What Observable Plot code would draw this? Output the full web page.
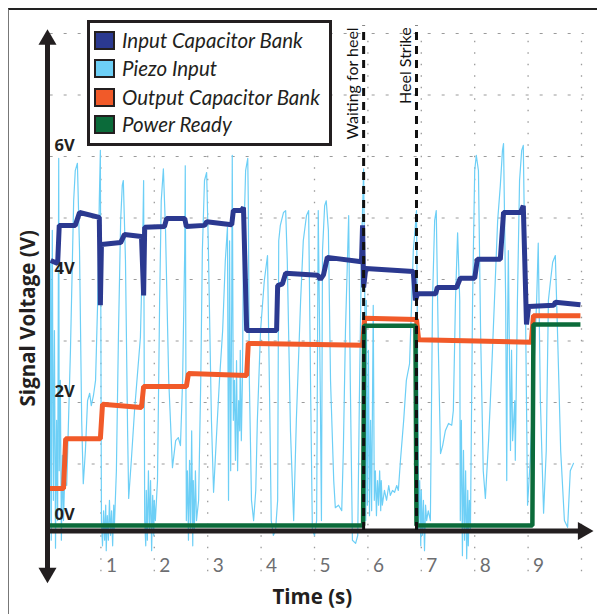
<!DOCTYPE html>
<html><head><meta charset="utf-8">
<script src="https://cdn.jsdelivr.net/npm/d3@7"></script>
<script src="https://cdn.jsdelivr.net/npm/@observablehq/plot@0.6"></script>
<style>
body{margin:0;background:#fff;}
#wrap{position:relative;width:597px;height:614px;overflow:hidden;font-family:Lato,"Open Sans",sans-serif;background:#fff;}
#frame{position:absolute;left:8px;top:8px;width:640px;height:640px;border-top:2px solid #222;border-left:1.5px solid #777;pointer-events:none;}
#legend{position:absolute;left:87px;top:20px;width:245px;height:126px;box-sizing:border-box;border:3px solid #231f20;background:#fff;}
.row{position:absolute;left:4px;height:24px;display:flex;align-items:center;white-space:nowrap;}
.sw{width:17px;height:15px;border:2px solid #231f20;margin-right:7px;flex:none;}
.lab{font-style:italic;font-size:20.5px;color:#231f20;}
</style></head>
<body><div id="wrap"></div>
<script>
// ---- data ----
const seriesNames = ["Input Capacitor Bank", "Piezo Input", "Output Capacitor Bank", "Power Ready"];
const seriesColors = ["#2b3990", "#6dcff6", "#f15a29", "#0b6b3a"];

const piezoTime = [0.02,0.04,0.06,0.07,0.09,0.11,0.13,0.15,0.17,0.19,0.21,0.22,0.24,0.26,0.28,0.30,0.32,0.36,0.43,0.49,0.52,0.56,0.60,0.64,0.67,0.71,0.75,0.79,0.82,0.86,0.90,0.94,0.97,0.99,1.01,1.03,1.05,1.07,1.09,1.10,1.12,1.14,1.16,1.18,1.20,1.22,1.24,1.25,1.29,1.33,1.37,1.40,1.42,1.46,1.50,1.52,1.57,1.63,1.69,1.74,1.78,1.80,1.82,1.84,1.85,1.87,1.89,1.91,1.93,1.95,1.97,1.99,2.00,2.02,2.06,2.10,2.13,2.17,2.21,2.27,2.34,2.40,2.45,2.49,2.53,2.57,2.58,2.60,2.62,2.64,2.66,2.68,2.70,2.72,2.73,2.75,2.77,2.79,2.83,2.87,2.90,2.94,2.98,3.01,3.07,3.11,3.16,3.22,3.28,3.33,3.37,3.39,3.41,3.43,3.45,3.46,3.48,3.50,3.52,3.54,3.56,3.58,3.60,3.61,3.63,3.65,3.67,3.71,3.75,3.76,3.78,3.82,3.86,3.90,3.93,3.99,4.06,4.12,4.16,4.19,4.23,4.27,4.31,4.33,4.36,4.42,4.46,4.49,4.55,4.61,4.66,4.74,4.79,4.85,4.89,4.93,4.96,5.00,5.04,5.07,5.11,5.13,5.15,5.19,5.22,5.26,5.30,5.36,5.39,5.45,5.51,5.54,5.58,5.64,5.67,5.71,5.77,5.81,5.84,5.88,5.92,5.94,5.96,5.97,5.99,6.01,6.03,6.05,6.07,6.10,6.12,6.14,6.16,6.18,6.20,6.22,6.24,6.25,6.27,6.31,6.35,6.39,6.42,6.46,6.50,6.54,6.57,6.61,6.67,6.72,6.78,6.82,6.85,6.89,6.91,6.93,6.95,6.97,6.99,7.00,7.02,7.04,7.06,7.08,7.10,7.13,7.17,7.21,7.25,7.28,7.32,7.36,7.40,7.45,7.51,7.57,7.60,7.64,7.68,7.72,7.73,7.75,7.77,7.79,7.81,7.83,7.85,7.87,7.88,7.90,7.92,7.96,8.00,8.03,8.07,8.11,8.16,8.20,8.26,8.31,8.37,8.43,8.48,8.52,8.54,8.58,8.60,8.61,8.63,8.67,8.69,8.71,8.75,8.76,8.80,8.84,8.88,8.91,8.95,8.99,9.04,9.10,9.16,9.19,9.23,9.29,9.34,9.38,9.42,9.46,9.51,9.55,9.61,9.68,9.74,9.79,9.85];
const piezoVolt = [3.66,0.08,4.31,-0.24,4.80,0.41,3.17,-0.37,1.71,0.08,5.97,0.89,2.36,-0.24,1.14,0.08,0.73,0.65,2.85,5.28,5.77,5.89,4.47,1.71,0.68,1.22,2.03,2.15,1.95,2.11,2.36,3.66,5.28,6.10,0.08,-0.33,0.24,-0.24,0.33,-0.41,0.16,-0.24,0.41,-0.16,0.24,-0.33,0.33,-0.08,0.89,3.17,4.96,5.53,5.61,4.31,1.54,0.44,1.06,1.87,2.52,3.06,4.47,5.61,0.08,-0.33,0.57,-0.24,0.89,-0.08,0.73,-0.41,0.49,-0.16,0.41,0.08,0.73,3.66,5.28,5.80,4.80,2.36,0.94,1.38,1.43,1.30,2.36,4.47,5.85,0.08,0.89,-0.24,1.06,-0.08,1.54,-0.33,0.73,-0.08,0.89,0.08,0.41,2.36,4.47,5.61,5.74,4.63,1.71,0.54,1.38,2.36,3.17,4.31,4.85,0.41,4.63,0.89,3.66,6.02,1.71,2.36,1.06,2.68,0.89,2.03,1.54,2.85,1.38,2.36,4.47,5.77,5.97,5.28,2.36,0.41,0.08,0.57,1.71,3.17,3.98,4.39,2.03,0.08,-0.16,-0.08,0.41,4.63,4.88,5.09,5.12,4.31,1.54,0.08,1.71,3.66,4.63,5.04,5.12,2.03,-0.08,-0.16,0.08,5.12,2.03,0.08,4.47,5.20,5.28,4.80,2.36,0.73,0.29,0.33,0.24,1.22,3.17,5.04,2.36,-0.24,-0.29,-0.16,2.03,4.47,5.80,3.98,0.08,3.66,0.33,2.85,0.16,1.71,0.24,3.58,0.41,0.89,0.16,0.73,0.33,0.89,0.24,0.73,0.33,0.57,0.41,0.65,0.49,0.57,0.54,0.65,0.57,1.06,1.71,2.36,2.63,3.66,4.47,4.88,5.12,2.85,-0.08,0.73,-0.33,0.57,-0.16,0.41,-0.41,0.33,0.08,0.24,0.08,3.66,4.96,5.12,2.85,1.17,1.30,1.54,1.66,1.63,1.87,3.66,4.76,3.66,0.08,1.71,-0.49,1.22,-0.24,0.89,-0.54,0.57,-0.33,0.41,-0.08,3.66,5.77,6.02,5.77,3.17,0.89,0.44,1.38,2.36,3.66,4.96,5.53,6.10,6.21,3.66,0.73,2.68,4.47,1.22,2.85,1.38,2.03,1.06,3.66,5.61,6.10,6.18,3.66,0.33,1.06,2.36,3.66,4.59,2.03,0.20,1.22,3.66,3.98,4.28,4.39,3.17,1.22,0.08,-0.03,0.89,1.01];

const inCapTime = [0.06,0.19,0.22,0.52,0.60,0.97,0.99,1.01,1.37,1.44,1.76,1.80,1.82,2.19,2.23,2.57,2.60,2.94,2.98,3.45,3.48,3.63,3.67,3.73,4.29,4.31,4.40,4.46,5.06,5.11,5.17,5.24,5.88,5.90,5.92,5.96,6.85,6.89,6.93,7.27,7.30,7.66,7.73,8.00,8.05,8.48,8.54,8.86,8.91,8.97,9.01,9.48,9.51,9.98];
const inCapVolt = [4.31,4.26,4.88,4.88,5.09,5.01,3.58,4.57,4.60,4.73,4.70,3.74,4.85,4.86,4.99,4.99,4.86,4.88,4.94,4.89,5.12,5.12,5.17,3.17,3.17,3.90,3.93,4.10,4.07,4.00,4.08,4.36,4.29,4.88,3.87,4.18,4.13,3.66,3.77,3.77,3.87,3.87,4.02,4.02,4.33,4.33,5.09,5.09,5.20,3.27,3.56,3.58,3.63,3.59];

const outCapTime = [0.02,0.30,0.34,0.99,1.03,1.76,1.80,2.60,2.64,3.73,3.76,5.90,5.94,6.91,6.95,9.06,9.10,9.98];
const outCapVolt = [0.60,0.60,1.41,1.41,1.97,1.92,2.26,2.26,2.47,2.44,2.96,2.93,3.37,3.35,3.02,2.98,3.41,3.41];

const powerTime = [0.02,5.91,5.93,6.89,6.91,9.08,9.10,9.98];
const powerVolt = [0,0,3.25,3.25,0,0,3.27,3.27];

const eventTimes = [5.92, 6.91];
const eventLabels = ["Waiting for heel", "Heel Strike"];

const xTickValues = [1,2,3,4,5,6,7,8,9];
const yTickValues = [0,2,4,6];
const gridVolts = [1,2,3,4,5,6,7,8];
const gridTimes = [1,2,3,4,5,6,7,8,9,10];

// ---- build tables ----
const zip = (T, V) => T.map((t, i) => ({t, v: V[i]}));
const piezo = zip(piezoTime, piezoVolt);
const inCap = zip(inCapTime, inCapVolt);
const outCap = zip(outCapTime, outCapVolt);
const power = zip(powerTime, powerVolt);
const events = eventTimes.map((t, i) => ({t, label: eventLabels[i]}));

const axisColor = "#231f20";
const boldFont = "'Open Sans', 'Noto Sans', sans-serif";
const axisYpos = -0.09;       // x-axis line sits just below 0 V
const yAxisTop = 7.9, yAxisBottom = -0.77, xAxisEnd = 10.03;
const heads = [
  {t: 0, v: yAxisTop, rot: 0},
  {t: 0, v: yAxisBottom, rot: 180},
  {t: xAxisEnd, v: axisYpos, rot: 90}
];

const chart = Plot.plot({
  width: 597, height: 614,
  marginLeft: 47, marginRight: 16, marginTop: 33, marginBottom: 27.5,
  x: {domain: [0, 10], axis: null},
  y: {domain: [-1, 8], axis: null},
  style: {background: "transparent", fontFamily: "Lato, 'Open Sans', sans-serif", overflow: "visible", color: axisColor},
  marks: [
    Plot.ruleY(gridVolts, {x1: 0.05, x2: 10.05, stroke: "#9a9a9a", strokeWidth: 1, strokeDasharray: "3,11"}),
    Plot.ruleX(gridTimes, {y1: -0.75, y2: 8, stroke: "#9a9a9a", strokeWidth: 1.3, strokeDasharray: "1.5,10"}),
    Plot.line(piezo, {x: "t", y: "v", stroke: seriesColors[1], strokeWidth: 1.2}),
    Plot.line(outCap, {x: "t", y: "v", stroke: seriesColors[2], strokeWidth: 5, strokeLinejoin: "miter", strokeLinecap: "butt"}),
    Plot.line(inCap, {x: "t", y: "v", stroke: seriesColors[0], strokeWidth: 5, strokeLinejoin: "miter", strokeLinecap: "butt"}),
    Plot.ruleY([axisYpos], {x1: 0, x2: xAxisEnd, stroke: axisColor, strokeWidth: 5}),
    Plot.line(power, {x: "t", y: "v", stroke: seriesColors[3], strokeWidth: 4.5, strokeLinejoin: "miter", strokeLinecap: "butt"}),
    Plot.ruleX(events, {x: "t", y1: -0.08, y2: 8.12, stroke: "#111", strokeWidth: 3, strokeDasharray: "8,6"}),
    Plot.text(events, {x: "t", y: 8.1, text: "label", rotate: -90, textAnchor: "end", dx: -11, fontSize: 16, fill: "#111"}),
    Plot.ruleX([0], {y1: yAxisBottom, y2: yAxisTop, stroke: axisColor, strokeWidth: 5}),
    Plot.dot(heads, {x: "t", y: "v", rotate: "rot", symbol: "triangle", r: 6.7, fill: axisColor, stroke: null}),
    Plot.text(xTickValues, {x: d => d, y: -0.65, text: d => String(d), textAnchor: "start", dx: 5, fill: "#6d6e71", fontSize: 19}),
    Plot.text(yTickValues, {x: 0, y: d => d, text: d => d + "V", textAnchor: "start", lineAnchor: "bottom", dx: 7, dy: -6, fontWeight: "bold", fontFamily: boldFont, fontSize: 16.5, fill: axisColor}),
    Plot.text(["Signal Voltage (V)"], {x: -0.36, y: 3.37, text: d => d, rotate: -90, fontWeight: "bold", fontFamily: boldFont, fontSize: 20.5, fill: axisColor}),
    Plot.text(["Time (s)"], {x: 4.96, y: -1.17, text: d => d, fontWeight: "bold", fontFamily: boldFont, fontSize: 20.5, fill: axisColor})
  ]
});

const wrap = document.getElementById("wrap");
wrap.appendChild(chart);
chart.style.position = "absolute"; chart.style.left = "0"; chart.style.top = "0";

const frame = document.createElement("div"); frame.id = "frame"; wrap.appendChild(frame);

const legend = document.createElement("div"); legend.id = "legend";
const rowCenters = [17, 45, 74, 101];
seriesNames.forEach((name, i) => {
  const row = document.createElement("div"); row.className = "row";
  row.style.top = (rowCenters[i] - 12) + "px";
  const sw = document.createElement("div"); sw.className = "sw"; sw.style.background = seriesColors[i];
  const lab = document.createElement("span"); lab.className = "lab"; lab.textContent = name;
  row.appendChild(sw); row.appendChild(lab); legend.appendChild(row);
});
wrap.appendChild(legend);
</script>
</body></html>
